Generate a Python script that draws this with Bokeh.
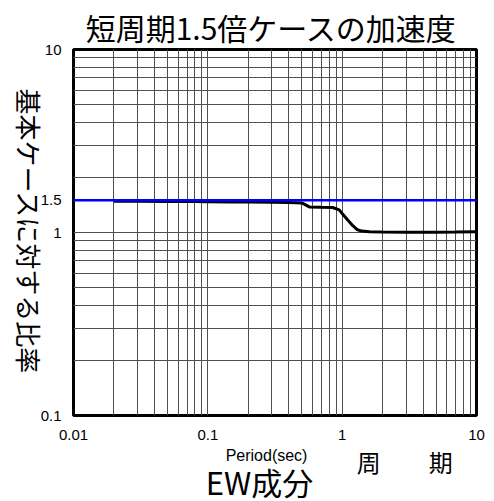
import math
from bokeh.plotting import figure
from bokeh.layouts import column
from bokeh.models import FixedTicker, CustomJSTickFormatter, Label, Range1d
from bokeh.core.properties import value
from bokeh.embed import file_html
from bokeh.resources import INLINE

# ---- data ----
period = [0.02, 0.03, 0.05, 0.08, 0.1, 0.15, 0.2, 0.3, 0.4, 0.45, 0.5, 0.53,
          0.57, 0.7, 0.85, 0.95, 1.0, 1.1, 1.2, 1.3, 1.4, 1.6, 2.0, 3.0, 5.0,
          7.0, 10.0]
ratio = [1.48, 1.48, 1.478, 1.475, 1.473, 1.47, 1.468, 1.463, 1.458, 1.455,
         1.45, 1.42, 1.38, 1.372, 1.37, 1.33, 1.27, 1.17, 1.09, 1.035, 1.018,
         1.01, 1.005, 1.003, 1.003, 1.005, 1.008]
base_x = [0.01, 10.0]
base_y = [1.5, 1.5]

x_ticks = [0.01, 0.1, 1, 10]
y_ticks = [0.1, 1, 1.5, 10]
x_minor = [m * 10 ** e for e in (-2, -1, 0) for m in range(2, 10)]
y_minor = [m * 10 ** e for e in (-1, 0) for m in range(2, 10)]

title_text = "短周期1.5倍ケースの加速度"
ylabel_text = "基本ケースに対する比率"
xlabel_en = "Period(sec)"
xlabel_jp = "周　　期"
comp_text = "EW成分"

# ---- layout ----
W = 494
H1, H2 = 446, 55
FL, FT, FR, FB = 71, 49, 476, 415  # frame edges in canvas pixels

p = figure(width=W, height=H1, x_axis_type="log", y_axis_type="log",
           x_range=Range1d(0.01, 10), y_range=Range1d(0.1, 10),
           output_backend="svg", toolbar_location=None, title=None,
           min_border_left=FL, min_border_top=FT,
           min_border_right=W - FR, min_border_bottom=H1 - FB)

p.outline_line_color = "black"
p.outline_line_width = 3
p.background_fill_color = "white"
p.border_fill_color = "white"

fmt = "return tick.toString();"
p.xaxis.ticker = FixedTicker(ticks=x_ticks, minor_ticks=x_minor)
p.yaxis.ticker = FixedTicker(ticks=y_ticks, minor_ticks=y_minor)
for ax in (p.xaxis, p.yaxis):
    ax.formatter = CustomJSTickFormatter(code=fmt)
    ax.axis_line_color = None
    ax.major_tick_line_color = None
    ax.minor_tick_line_color = None
    ax.major_tick_out = 0
    ax.minor_tick_out = 0
    ax.major_label_text_font = "Liberation Sans"
    ax.major_label_text_font_size = "15px"
    ax.major_label_text_color = "black"
p.xaxis.major_label_standoff = 14
p.yaxis.major_label_standoff = 12

for g in (p.xgrid, p.ygrid):
    g.grid_line_color = "#505050"
    g.grid_line_width = 1
    g.minor_grid_line_color = "#505050"
    g.minor_grid_line_width = 1

p.line(period, ratio, line_color="black", line_width=3)
p.line(base_x, base_y, line_color="#0000ff", line_width=2.5)

# title and rotated y label in side panels (not clipped)
p.add_layout(Label(x=271, y=26, x_units="canvas", y_units="canvas",
                   text=title_text, text_align="center", text_baseline="middle",
                   text_font="Noto Sans CJK JP", text_font_size="30px",
                   text_color="black"), "above")
p.add_layout(Label(x=29, y=231, x_units="canvas", y_units="canvas",
                   text=ylabel_text, text_align="center", text_baseline="middle",
                   text_font="Noto Sans CJK JP", text_font_size="26px",
                   text_color="black", angle=-math.pi / 2), "left")

# bottom strip with the axis captions; its frame is aligned with p's frame,
# so its x range is expressed in the same canvas pixels
q = figure(width=W, height=H2, x_range=Range1d(FL, FR), y_range=Range1d(H2, 0),
           output_backend="svg", toolbar_location=None, title=None,
           x_axis_location=None, y_axis_location=None,
           min_border=0, min_border_left=FL, min_border_right=W - FR,
           min_border_top=0, min_border_bottom=0)
q.grid.visible = False
q.outline_line_color = None
q.background_fill_color = "white"
q.border_fill_color = "white"

q.text(x=[265], y=[9], text=[xlabel_en], text_align="center",
       text_baseline="middle", text_font=value("Liberation Sans"),
       text_font_size="16px", text_color="black")
q.text(x=[404], y=[14.5], text=[xlabel_jp], text_align="center",
       text_baseline="middle", text_font=value("Noto Sans CJK JP"),
       text_font_size="24px", text_color="black")
q.text(x=[258], y=[35], text=[comp_text], text_align="center",
       text_baseline="middle", text_font=value("Noto Sans CJK JP"),
       text_font_size="31px", text_color="black")

layout = column(p, q, spacing=0)
open("out.html", "w").write(file_html(layout, INLINE))
